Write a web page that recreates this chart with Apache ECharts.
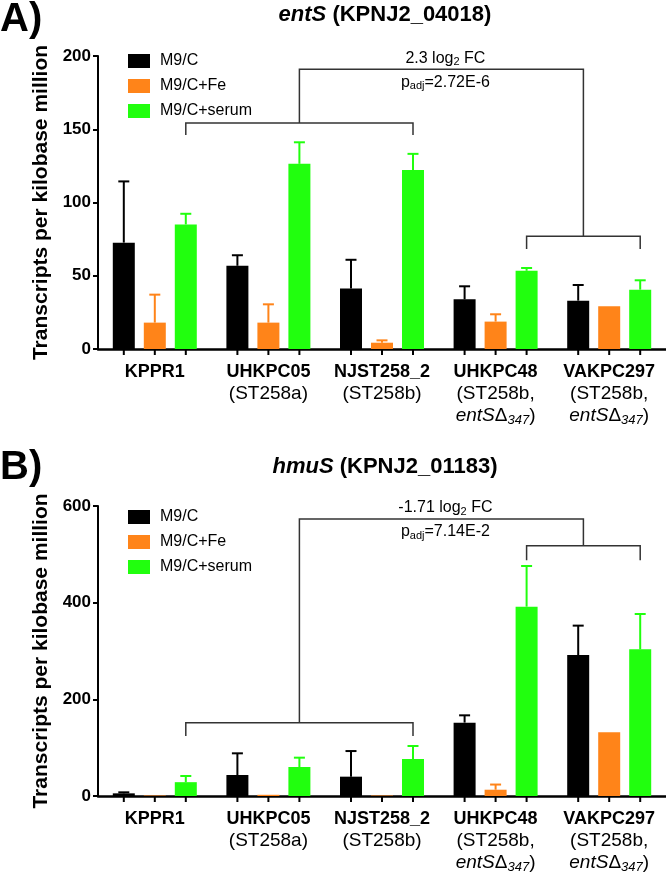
<!DOCTYPE html>
<html><head><meta charset="utf-8">
<script src="https://cdn.jsdelivr.net/npm/echarts@6/dist/echarts.min.js"></script>
<style>html,body{margin:0;padding:0;background:#fff}#c{width:666px;height:874px}</style>
</head><body><div id="c"></div>
<script>
// ---------- DATA ----------
const categories = ['KPPR1', 'UHKPC05', 'NJST258_2', 'UHKPC48', 'VAKPC297'];
const strainLine2 = ['', '(ST258a)', '(ST258b)', '(ST258b,', '(ST258b,'];
const strainLine3 = ['', '', '', 'entS\u0394347)', 'entS\u0394347)'];
const seriesNames = ['M9/C', 'M9/C+Fe', 'M9/C+serum'];

// entS (KPNJ2_04018): bar means and upper ends of error bars (null = none)
const entsM9C = [72.6, 56.8, 41.3, 33.9, 33.0];
const entsM9CErr = [114.4, 64.0, 60.9, 42.8, 43.7];
const entsFe = [18.0, 18.0, 4.3, 18.7, 29.1];
const entsFeErr = [37.1, 30.5, 5.9, 23.7, null];
const entsSerum = [85.0, 126.4, 122.2, 53.4, 40.5];
const entsSerumErr = [92.3, 141.1, 133.2, 55.3, 46.9];
const entsYTicks = [0, 50, 100, 150, 200];
// bracket levels: [lower-left bar, lower-left legs end, top bar, lower-right bar, lower-right legs end]
const entsBracket = [154.3, 146.0, 191.0, 77.0, 68.3];
const entsFC = '2.3';
const entsPadj = '2.72E-6';

// hmuS (KPNJ2_01183)
const hmusM9C = [5.5, 43.4, 40.0, 151.8, 291.7];
const hmusM9CErr = [7.6, 88.3, 93.0, 166.9, 352.5];
const hmusFe = [1.0, 2.5, 1.0, 13.0, 131.7];
const hmusFeErr = [null, null, null, 23.7, null];
const hmusSerum = [28.6, 60.0, 76.6, 391.7, 303.4];
const hmusSerumErr = [41.4, 79.3, 103.5, 475.9, 376.6];
const hmusYTicks = [0, 200, 400, 600];
const hmusBracket = [151.7, 124.0, 573.0, 518.0, 488.0];
const hmusFC = '-1.71';
const hmusPadj = '7.14E-2';

// ---------- STYLE ----------
const FONT = 'Liberation Sans, Arial, Helvetica, sans-serif';
const COLORS = ['#000000', '#FF8419', '#21FF0E'];
const BAR_W = 22, BAR_STEP = 31;

const chart = echarts.init(document.getElementById('c'));

function barSeries(name, data, idx, axis, color) {
  return {
    type: 'bar', name: name, data: data, xAxisIndex: axis, yAxisIndex: axis,
    barWidth: BAR_W, barGap: ((BAR_STEP - BAR_W) / BAR_W * 100) + '%',
    itemStyle: { color: color }, z: 2, silent: true
  };
}

function errData(means, tops) {
  const out = [];
  for (let b = 0; b < means.length; b++) {
    for (let i = 0; i < means[b].length; i++) {
      out.push([i, b, means[b][i], tops[b][i] == null ? -1 : tops[b][i]]);
    }
  }
  return out;
}

function errSeries(axis, means, tops) {
  return {
    type: 'custom', xAxisIndex: axis, yAxisIndex: axis, z: 3, silent: true, clip: false,
    data: errData(means, tops),
    renderItem: function (params, api) {
      const cat = api.value(0), b = api.value(1), m = api.value(2), t = api.value(3);
      const x = api.coord([cat, 0])[0] + (b - 1) * BAR_STEP;
      const y0 = api.coord([cat, 0])[1];
      const ch = [{
        type: 'line', shape: { x1: x, y1: y0, x2: x, y2: y0 + 6 },
        style: { stroke: '#000', lineWidth: 2 }
      }];
      if (t > m) {
        const ym = api.coord([cat, m])[1], yt = api.coord([cat, t])[1];
        ch.push({ type: 'line', shape: { x1: x, y1: ym, x2: x, y2: yt }, style: { stroke: COLORS[b], lineWidth: 2 } });
        ch.push({ type: 'line', shape: { x1: x - 5.5, y1: yt, x2: x + 5.5, y2: yt }, style: { stroke: COLORS[b], lineWidth: 2 } });
      }
      return { type: 'group', children: ch };
    }
  };
}

const annRich = {
  r: { fontSize: 16, fontFamily: FONT, color: '#222', lineHeight: 18 },
  s: { fontSize: 11, fontFamily: FONT, color: '#222', lineHeight: 11, verticalAlign: 'bottom' }
};

function bracketSeries(axis, lv, fc, padj) {
  return {
    type: 'custom', xAxisIndex: axis, yAxisIndex: axis, z: 4, silent: true, clip: false,
    data: [[0, 0]],
    renderItem: function (params, api) {
      const bx = (c, b) => api.coord([c, 0])[0] + (b - 1) * BAR_STEP;
      const by = v => api.coord([0, v])[1];
      const L1 = bx(0, 2), L2 = bx(2, 2), R1 = bx(3, 2), R2 = bx(4, 2);
      const Lm = (L1 + L2) / 2, Rm = (R1 + R2) / 2;
      const ly = by(lv[0]), lleg = by(lv[1]), ty = by(lv[2]), ry = by(lv[3]), rleg = by(lv[4]);
      const st = { stroke: '#333', lineWidth: 1.5, fill: null };
      const cx = (Lm + Rm) / 2 + 4;
      return {
        type: 'group', children: [
          { type: 'polyline', shape: { points: [[L1, lleg], [L1, ly], [L2, ly], [L2, lleg]] }, style: st },
          { type: 'polyline', shape: { points: [[R1, rleg], [R1, ry], [R2, ry], [R2, rleg]] }, style: st },
          { type: 'polyline', shape: { points: [[Lm, ly], [Lm, ty], [Rm, ty], [Rm, ry]] }, style: st },
          { type: 'text', style: { x: cx, y: ty - 11, text: '{r|' + fc + ' log}{s|2}{r| FC}', rich: annRich, align: 'center', verticalAlign: 'middle' } },
          { type: 'text', style: { x: cx, y: ty + 13, text: '{r|p}{s|adj}{r|=' + padj + '}', rich: annRich, align: 'center', verticalAlign: 'middle' } }
        ]
      };
    }
  };
}

const xRich = {
  b: { fontSize: 18, fontWeight: 'bold', fontFamily: FONT, color: '#000', lineHeight: 22 },
  r: { fontSize: 19, fontFamily: FONT, color: '#000', lineHeight: 22 },
  i: { fontSize: 19, fontStyle: 'italic', fontFamily: FONT, color: '#000', lineHeight: 22 },
  s: { fontSize: 13, fontStyle: 'italic', fontFamily: FONT, color: '#000', lineHeight: 12, verticalAlign: 'bottom' }
};

function xLabel(v, i) {
  let t = '{b|' + v + '}';
  if (strainLine2[i]) t += '\n{r|' + strainLine2[i] + '}';
  if (strainLine3[i]) t += '\n{i|entS}{r|\u0394}{s|347}{r|)}';
  return t;
}

function xAxis(grid) {
  return {
    type: 'category', gridIndex: grid, data: categories,
    axisLine: { show: true, lineStyle: { color: '#000', width: 2.5 } },
    axisTick: { show: false },
    axisLabel: { interval: 0, margin: 12, formatter: xLabel, rich: xRich, verticalAlign: 'top' }
  };
}

function yAxis(grid, ticks) {
  return {
    type: 'value', gridIndex: grid, min: ticks[0], max: ticks[ticks.length - 1],
    interval: ticks[1] - ticks[0],
    name: 'Transcripts per kilobase million', nameLocation: 'middle', nameGap: 45,
    nameTextStyle: { fontSize: 21, fontWeight: 'bold', fontFamily: FONT, color: '#000' },
    axisLine: { show: true, lineStyle: { color: '#000', width: 2 } },
    axisTick: { show: true, length: 5, lineStyle: { color: '#000', width: 2 } },
    axisLabel: { fontSize: 17, fontWeight: 'bold', fontFamily: FONT, color: '#000', margin: 7 },
    splitLine: { show: false }
  };
}

function legend(top) {
  return {
    data: seriesNames, orient: 'vertical', left: 123, top: top,
    itemWidth: 22, itemHeight: 14, itemGap: 9, icon: 'rect', selectedMode: false,
    textStyle: { fontSize: 16, fontFamily: FONT, color: '#000', lineHeight: 14, padding: [0, 0, 0, 5] }
  };
}

const titleRich = {
  i: { fontSize: 22, fontWeight: 'bold', fontStyle: 'italic', fontFamily: FONT, fill: '#000' },
  b: { fontSize: 22, fontWeight: 'bold', fontFamily: FONT, fill: '#000' }
};

const option = {
  animation: false,
  backgroundColor: '#fff',
  grid: [
    { left: 98, top: 56, width: 568, height: 293 },
    { left: 98, top: 506, width: 568, height: 290 }
  ],
  xAxis: [xAxis(0), xAxis(1)],
  yAxis: [yAxis(0, entsYTicks), yAxis(1, hmusYTicks)],
  legend: [legend(48), legend(504)],
  graphic: [
    { type: 'text', x: 0, y: 0, style: { text: 'A)', font: 'bold 40px ' + FONT, fill: '#000' } },
    { type: 'text', x: 0, y: 448, style: { text: 'B)', font: 'bold 40px ' + FONT, fill: '#000' } },
    { type: 'text', x: 385, y: 15, style: { text: '{i|entS}{b| (KPNJ2_04018)}', rich: titleRich, align: 'center', verticalAlign: 'middle' } },
    { type: 'text', x: 385, y: 467, style: { text: '{i|hmuS}{b| (KPNJ2_01183)}', rich: titleRich, align: 'center', verticalAlign: 'middle' } }
  ],
  series: [
    barSeries(seriesNames[0], entsM9C, 0, 0, COLORS[0]),
    barSeries(seriesNames[1], entsFe, 1, 0, COLORS[1]),
    barSeries(seriesNames[2], entsSerum, 2, 0, COLORS[2]),
    errSeries(0, [entsM9C, entsFe, entsSerum], [entsM9CErr, entsFeErr, entsSerumErr]),
    bracketSeries(0, entsBracket, entsFC, entsPadj),
    barSeries(seriesNames[0], hmusM9C, 0, 1, COLORS[0]),
    barSeries(seriesNames[1], hmusFe, 1, 1, COLORS[1]),
    barSeries(seriesNames[2], hmusSerum, 2, 1, COLORS[2]),
    errSeries(1, [hmusM9C, hmusFe, hmusSerum], [hmusM9CErr, hmusFeErr, hmusSerumErr]),
    bracketSeries(1, hmusBracket, hmusFC, hmusPadj)
  ]
};
chart.setOption(option);
</script>
</body></html>
